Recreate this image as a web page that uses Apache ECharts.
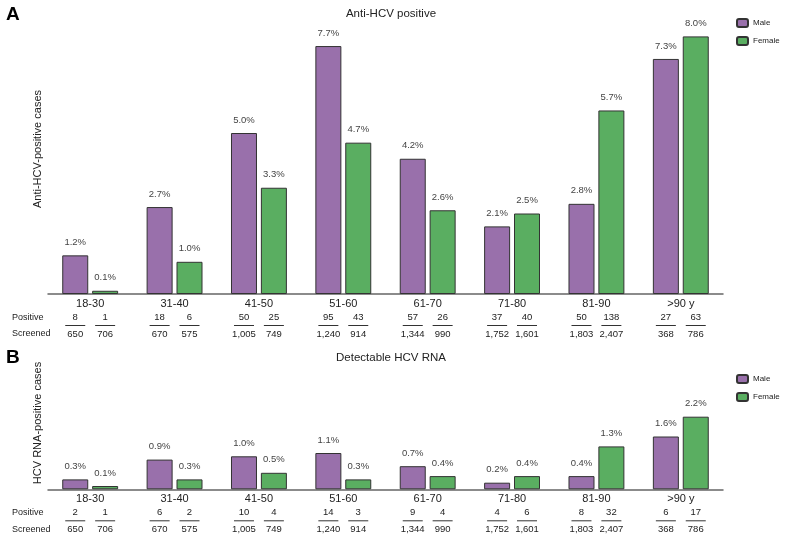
<!DOCTYPE html>
<html>
<head>
<meta charset="utf-8">
<script src="https://cdn.jsdelivr.net/npm/echarts@6/dist/echarts.min.js"></script>
<style>
html,body{margin:0;padding:0;background:#fff;}
#chart{width:787px;height:538px;}
</style>
</head>
<body>
<div id="chart"></div>
<script>
// ---- data ----
const categories = ['18-30','31-40','41-50','51-60','61-70','71-80','81-90','>90 y'];

const antiMalePct   = [1.2, 2.7, 5.0, 7.7, 4.2, 2.1, 2.8, 7.3];
const antiFemalePct = [0.1, 1.0, 3.3, 4.7, 2.6, 2.5, 5.7, 8.0];
const antiMalePos   = [8, 18, 50, 95, 57, 37, 50, 27];
const antiFemalePos = [1, 6, 25, 43, 26, 40, 138, 63];

const rnaMalePct    = [0.3, 0.9, 1.0, 1.1, 0.7, 0.2, 0.4, 1.6];
const rnaFemalePct  = [0.1, 0.3, 0.5, 0.3, 0.4, 0.4, 1.3, 2.2];
const rnaMalePos    = [2, 6, 10, 14, 9, 4, 8, 6];
const rnaFemalePos  = [1, 2, 4, 3, 4, 6, 32, 17];

const malScreened    = [650, 670, 1005, 1240, 1344, 1752, 1803, 368];
const femScreened    = [706, 575, 749, 914, 990, 1601, 2407, 786];

// ---- style ----
const FONT = '"Liberation Sans", Arial, Helvetica, sans-serif';
const PURPLE = '#9970AB';
const GREEN = '#5AAE61';
const BAR_W = 26;
const BAR_GAP = 0.15;
const OFF = (BAR_W + BAR_W * BAR_GAP) / 2;

const fmt = v => v.toLocaleString('en-US');

function tableSeries(idx, malePos, femalePos) {
  const data = categories.map((c, i) => [c, 0, malePos[i], femalePos[i], malScreened[i], femScreened[i]]);
  return {
    type: 'custom',
    xAxisIndex: idx, yAxisIndex: idx,
    silent: true,
    clip: false,
    encode: { x: 0, y: 1 },
    data: data,
    renderItem: function (params, api) {
      const c = api.coord([api.value(0), 0]);
      const base = c[1];
      const children = [];
      const xs = [c[0] - OFF, c[0] + OFF];
      const pos = [api.value(2), api.value(3)];
      const scr = [api.value(4), api.value(5)];
      for (let k = 0; k < 2; k++) {
        children.push({ type: 'text', x: xs[k], y: base + 23.5,
          style: { text: fmt(pos[k]), fill: '#222', fontSize: 9.5, fontFamily: FONT, align: 'center', verticalAlign: 'middle' } });
        children.push({ type: 'line', shape: { x1: xs[k] - 10, y1: base + 31.5, x2: xs[k] + 10, y2: base + 31.5 },
          style: { stroke: '#333', lineWidth: 1 } });
        children.push({ type: 'text', x: xs[k], y: base + 40,
          style: { text: fmt(scr[k]), fill: '#222', fontSize: 9.5, fontFamily: FONT, align: 'center', verticalAlign: 'middle' } });
      }
      return { type: 'group', children: children };
    }
  };
}

function barSeries(name, idx, data, color) {
  return {
    name: name, type: 'bar', xAxisIndex: idx, yAxisIndex: idx,
    data: data,
    barWidth: BAR_W,
    barGap: (BAR_GAP * 100) + '%',
    itemStyle: { color: color, borderColor: '#333', borderWidth: 1 },
    label: { show: true, position: 'top', distance: 8, formatter: p => p.value.toFixed(1) + '%',
      color: '#444', fontSize: 9.5, fontFamily: FONT },
    emphasis: { disabled: true }
  };
}

function xAxisDef(idx) {
  return {
    type: 'category', gridIndex: idx, data: categories,
    axisLine: { show: true, lineStyle: { color: '#666', width: 1.5 } },
    axisTick: { show: false },
    axisLabel: { color: '#222', fontSize: 11, fontFamily: FONT, margin: 4 }
  };
}
function yAxisDef(idx, max) {
  return {
    type: 'value', gridIndex: idx, min: 0, max: max,
    axisLine: { show: false }, axisTick: { show: false },
    axisLabel: { show: false }, splitLine: { show: false }
  };
}

const chart = echarts.init(document.getElementById('chart'), null, { renderer: 'canvas' });
chart.setOption({
  animation: false,
  backgroundColor: '#fff',
  textStyle: { fontFamily: FONT },
  title: [
    { text: 'A', left: 1, top: 0, textStyle: { fontSize: 19, fontWeight: 'bold', color: '#000', fontFamily: FONT } },
    { text: 'B', left: 1, top: 343, textStyle: { fontSize: 19, fontWeight: 'bold', color: '#000', fontFamily: FONT } },
    { text: 'Anti-HCV positive', left: 386, top: 3, textAlign: 'center', textStyle: { fontSize: 11.5, fontWeight: 'normal', color: '#222', fontFamily: FONT } },
    { text: 'Detectable HCV RNA', left: 386, top: 347, textAlign: 'center', textStyle: { fontSize: 11.5, fontWeight: 'normal', color: '#222', fontFamily: FONT } }
  ],
  legend: [
    { data: ['Male', 'Female'], orient: 'vertical', left: 731, top: 13, itemWidth: 11, itemHeight: 8, itemGap: 8,
      textStyle: { fontSize: 8, color: '#222', fontFamily: FONT }, selectedMode: false },
    { data: ['Male', 'Female'], orient: 'vertical', left: 731, top: 369, itemWidth: 11, itemHeight: 8, itemGap: 8,
      textStyle: { fontSize: 8, color: '#222', fontFamily: FONT }, selectedMode: false }
  ],
  grid: [
    { left: 48, width: 675, top: 36.4, height: 257.6 },
    { left: 48, width: 675, top: 416.7, height: 72.6 }
  ],
  xAxis: [xAxisDef(0), xAxisDef(1)],
  yAxis: [yAxisDef(0, 8), yAxisDef(1, 2.2)],
  graphic: [
    { type: 'text', x: 38, y: 149, rotation: Math.PI / 2, style: { text: 'Anti-HCV-positive cases', fill: '#222', fontSize: 11, fontFamily: FONT, align: 'center', verticalAlign: 'middle' } },
    { type: 'text', x: 38, y: 423, rotation: Math.PI / 2, style: { text: 'HCV RNA-positive cases', fill: '#222', fontSize: 11, fontFamily: FONT, align: 'center', verticalAlign: 'middle' } },
    { type: 'text', x: 12, y: 317.5, style: { text: 'Positive', fill: '#222', fontSize: 9, fontFamily: FONT, verticalAlign: 'middle' } },
    { type: 'text', x: 12, y: 334, style: { text: 'Screened', fill: '#222', fontSize: 9, fontFamily: FONT, verticalAlign: 'middle' } },
    { type: 'text', x: 12, y: 513, style: { text: 'Positive', fill: '#222', fontSize: 9, fontFamily: FONT, verticalAlign: 'middle' } },
    { type: 'text', x: 12, y: 529.5, style: { text: 'Screened', fill: '#222', fontSize: 9, fontFamily: FONT, verticalAlign: 'middle' } }
  ],
  series: [
    barSeries('Male', 0, antiMalePct, PURPLE),
    barSeries('Female', 0, antiFemalePct, GREEN),
    barSeries('Male', 1, rnaMalePct, PURPLE),
    barSeries('Female', 1, rnaFemalePct, GREEN),
    tableSeries(0, antiMalePos, antiFemalePos),
    tableSeries(1, rnaMalePos, rnaFemalePos)
  ]
});
</script>
</body>
</html>
